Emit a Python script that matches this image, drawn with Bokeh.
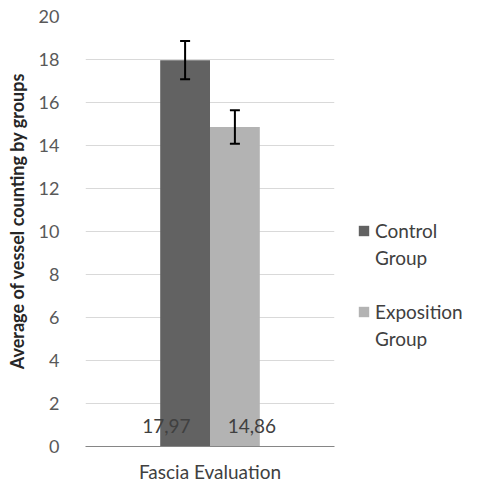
import math
from bokeh.plotting import figure
from bokeh.models import (FactorRange, Range1d, ColumnDataSource, Whisker, TeeHead,
                          Legend, LegendItem, FixedTicker)
from bokeh.transform import dodge
from bokeh.core.properties import value
from bokeh.embed import file_html
from bokeh.resources import INLINE

# ---- data ----
categories = ["Fascia Evaluation"]
series_first_lines = ["Control", "Exposition"]
series_second_lines = ["Group", "Group"]
control_values = [17.97]
exposition_values = [14.86]
control_errors = [0.89]
exposition_errors = [0.78]
control_labels = ["17,97"]
exposition_labels = ["14,86"]
y_ticks = [0, 2, 4, 6, 8, 10, 12, 14, 16, 18, 20]
y_title = "Average of vessel counting by groups"

FONT = "Lato"
colors = ["#626262", "#b3b3b3"]

p = figure(x_range=FactorRange(*categories, range_padding=0), y_range=Range1d(0, 20),
           frame_width=249, frame_height=430,
           min_border_left=85, min_border_right=143, min_border_top=16, min_border_bottom=38,
           output_backend="svg", toolbar_location=None)
p.outline_line_color = None
p.background_fill_color = "white"

def make_source(vals, errs, labels):
    return ColumnDataSource(dict(
        x=categories, top=vals,
        upper=[v + e for v, e in zip(vals, errs)],
        lower=[v - e for v, e in zip(vals, errs)],
        label=labels, zero=[0] * len(vals)))

sources = [make_source(control_values, control_errors, control_labels),
           make_source(exposition_values, exposition_errors, exposition_labels)]
bar_offsets = [-0.1, 0.1]
label_offsets = [-0.175, 0.168]

renderers = []
for src, off, loff, col in zip(sources, bar_offsets, label_offsets, colors):
    r = p.vbar(x=dodge("x", off, range=p.x_range), top="top", width=0.2, source=src,
               fill_color=col, line_color=None)
    renderers.append(r)
    w = Whisker(base=dodge("x", off, range=p.x_range), upper="upper", lower="lower", source=src,
                line_color="black", line_width=2, level="overlay",
                upper_head=TeeHead(size=10, line_width=2, line_color="black"),
                lower_head=TeeHead(size=10, line_width=2, line_color="black"))
    p.add_layout(w)
    p.text(x=dodge("x", loff, range=p.x_range), y="zero", text="label", source=src,
           text_align="center", text_baseline="middle", y_offset=-21,
           text_font=value(FONT), text_font_size="19px", text_color="#404040")

# invisible renderer used for the second line of each legend entry
blank = p.vbar(x=[], top=[], width=0.2, fill_alpha=0, line_alpha=0)

# axes
p.yaxis.ticker = FixedTicker(ticks=y_ticks)
p.yaxis.axis_line_color = None
p.yaxis.major_tick_line_color = None
p.yaxis.minor_tick_line_color = None
p.yaxis.major_label_standoff = 20
p.yaxis.major_label_text_font = FONT
p.yaxis.major_label_text_font_size = "18px"
p.yaxis.major_label_text_color = "#595959"
p.yaxis.axis_label = "\u00a0" * 5 + y_title
p.yaxis.axis_label_standoff = 8
p.yaxis.axis_label_text_font = FONT
p.yaxis.axis_label_text_font_style = "bold"
p.yaxis.axis_label_text_font_size = "18px"
p.yaxis.axis_label_text_color = "#262626"

p.xaxis.axis_line_color = "#868686"
p.xaxis.axis_line_width = 1
p.xaxis.major_tick_line_color = None
p.xaxis.minor_tick_line_color = None
p.xaxis.major_label_standoff = 7
p.xaxis.major_label_text_font = FONT
p.xaxis.major_label_text_font_size = "19px"
p.xaxis.major_label_text_color = "#404040"

p.xgrid.grid_line_color = None
p.ygrid.grid_line_color = "#d9d9d9"
p.ygrid.grid_line_width = 1

items = [LegendItem(label=series_first_lines[0], renderers=[renderers[0]]),
         LegendItem(label=series_second_lines[0], renderers=[blank]),
         LegendItem(label="\u00a0", renderers=[blank]),
         LegendItem(label=series_first_lines[1], renderers=[renderers[1]]),
         LegendItem(label=series_second_lines[1], renderers=[blank])]
lg = Legend(items=items, location=(23, 96), border_line_color=None, background_fill_alpha=0,
            padding=0, margin=0, glyph_width=13, glyph_height=13, label_standoff=5,
            spacing=4, label_text_font=FONT, label_text_font_size="19px",
            label_text_color="#404040")
p.add_layout(lg, "right")

open("out.html", "w").write(file_html(p, INLINE))
